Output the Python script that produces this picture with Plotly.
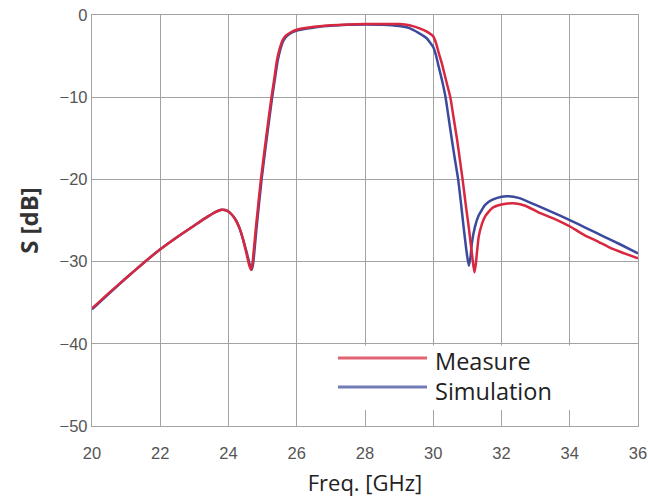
import plotly.graph_objects as go

# Simulation (blue)
sim_f = [20.0, 20.5, 21.0, 21.5, 22.0, 22.5, 23.0, 23.4, 23.6, 23.8, 23.95, 24.1, 24.22, 24.32,
         24.42, 24.52, 24.6, 24.64, 24.68, 24.72, 24.82, 24.97, 25.12, 25.28, 25.37, 25.44,
         25.52, 25.6, 25.7, 25.85, 26.0, 26.3, 26.6, 27.0, 27.5, 28.0, 28.5, 29.0, 29.3, 29.58,
         29.8, 30.0, 30.08, 30.16, 30.26, 30.36, 30.45, 30.55, 30.64, 30.73, 30.81, 30.89,
         30.97, 31.04, 31.09, 31.13, 31.22, 31.33, 31.52, 31.72, 32.0, 32.2, 32.5, 33.0, 33.5,
         34.0, 34.5, 35.0, 35.5, 36.0]
sim_s = [-35.8, -33.9, -32.0, -30.2, -28.5, -27.0, -25.6, -24.5, -24.0, -23.7, -23.8, -24.3, -25.0, -25.9,
         -27.2, -28.7, -30.0, -30.6, -31.0, -30.3, -26.0, -20.0, -15.0, -10.0, -7.5, -5.6,
         -4.2, -3.2, -2.6, -2.15, -1.9, -1.65, -1.45, -1.3, -1.2, -1.15, -1.18, -1.35, -1.6, -2.2,
         -2.8, -3.9, -4.9, -6.3, -8.0, -10.0, -12.5, -15.3, -17.7, -20.0, -22.8, -25.8,
         -28.6, -30.5, -29.5, -27.8, -25.8, -24.4, -23.1, -22.5, -22.1, -22.05, -22.25, -23.1, -24.0,
         -24.95, -25.95, -26.95, -27.95, -29.0]

# Measure (red)
mea_f = [20.0, 20.5, 21.0, 21.5, 22.0, 22.5, 23.0, 23.4, 23.6, 23.8, 23.95, 24.1, 24.22, 24.32,
         24.42, 24.52, 24.58, 24.62, 24.66, 24.70, 24.80, 24.95, 25.10, 25.26, 25.35, 25.42,
         25.50, 25.58, 25.68, 25.83, 26.0, 26.3, 26.6, 27.0, 27.5, 28.0, 28.5, 29.0, 29.3, 29.58,
         29.8, 30.0, 30.08, 30.16, 30.26, 30.36, 30.5, 30.6, 30.7, 30.78, 30.86, 30.95,
         31.04, 31.12, 31.18, 31.21, 31.25, 31.33, 31.42, 31.52, 31.72, 32.0, 32.35, 32.7, 33.08,
         33.5, 33.86, 34.0, 34.44, 34.8, 35.22, 35.6, 36.0]
mea_s = [-35.7, -33.8, -32.0, -30.2, -28.5, -27.0, -25.6, -24.5, -24.0, -23.7, -23.8, -24.3, -25.0, -25.9,
         -27.2, -28.9, -30.0, -30.6, -31.0, -30.3, -26.0, -20.0, -15.0, -10.0, -7.5, -5.5,
         -4.1, -3.1, -2.5, -2.1, -1.8, -1.55, -1.4, -1.25, -1.15, -1.1, -1.08, -1.1, -1.25, -1.6,
         -2.0, -2.6, -3.4, -4.6, -6.0, -7.7, -10.0, -12.6, -15.2, -17.6, -20.0, -23.0,
         -25.8, -28.6, -30.6, -31.3, -30.2, -27.0, -25.5, -24.5, -23.5, -23.06, -22.9, -23.2, -24.0,
         -24.7, -25.4, -25.7, -26.8, -27.5, -28.4, -29.0, -29.6]

x_ticks = [20, 22, 24, 26, 28, 30, 32, 34, 36]
y_ticks = [0, -10, -20, -30, -40, -50]
y_labels = ["0", "\u221210", "\u221220", "\u221230", "\u221240", "\u221250"]
legend_names = ["Measure", "Simulation"]

RED = "#d8283f"
BLUE = "#3b4a9c"
GRID = "#a3a3a3"

fig = go.Figure()
fig.add_trace(go.Scatter(x=sim_f, y=sim_s, mode="lines", name="Simulation",
                         line=dict(color=BLUE, width=2.5, shape="spline", smoothing=0.5)))
fig.add_trace(go.Scatter(x=mea_f, y=mea_s, mode="lines", name="Measure",
                         line=dict(color=RED, width=2.5, shape="spline", smoothing=0.5)))

# legend (manual, to mimic long sample lines)
fig.add_shape(type="rect", xref="paper", yref="paper", x0=0.399, x1=0.996, y0=0.039, y1=0.196,
              fillcolor="white", line=dict(width=0), layer="above")
for name, col, yl, yt in [(legend_names[0], RED, 0.1655, 0.157), (legend_names[1], BLUE, 0.0949, 0.085)]:
    fig.add_shape(type="line", xref="paper", yref="paper", x0=0.4505, x1=0.6136, y0=yl, y1=yl,
                  line=dict(color=col, width=3.2), layer="above", opacity=0.72)
    fig.add_annotation(xref="paper", yref="paper", x=0.624, y=yt, text=name, showarrow=False,
                       xanchor="left", yanchor="middle",
                       font=dict(family="Open Sans", size=23.5, color="#222"))

fig.update_layout(
    width=648, height=499,
    margin=dict(l=92, r=10, t=15, b=73),
    plot_bgcolor="white", paper_bgcolor="white",
    showlegend=False,
)
fig.update_xaxes(range=[20, 36], tickvals=x_ticks, ticktext=[str(v) for v in x_ticks],
                 automargin=False,
                 showgrid=True, gridcolor=GRID, gridwidth=1.3,
                 showline=True, linecolor=GRID, linewidth=1.3, mirror=True,
                 zeroline=False, ticks="", ticklabelstandoff=12,
                 tickfont=dict(family="Liberation Sans", size=16.5, color="#555"),
                 title=dict(text="Freq. [GHz]", standoff=14,
                            font=dict(family="Open Sans", size=22, color="#222")))
fig.update_yaxes(range=[-50, 0], tickvals=y_ticks, ticktext=y_labels,
                 automargin=False,
                 showgrid=True, gridcolor=GRID, gridwidth=1.3,
                 showline=True, linecolor=GRID, linewidth=1.3, mirror=True,
                 zeroline=False, ticks="",
                 tickfont=dict(family="Liberation Sans", size=16.5, color="#555"),
                 title=dict(text="<b>S [dB]</b>", standoff=14,
                            font=dict(family="Open Sans", size=24, color="#333")))

fig.write_html("out.html", config={"displayModeBar": False},
               post_script="document.body.style.margin='0';document.body.style.overflow='hidden';")
